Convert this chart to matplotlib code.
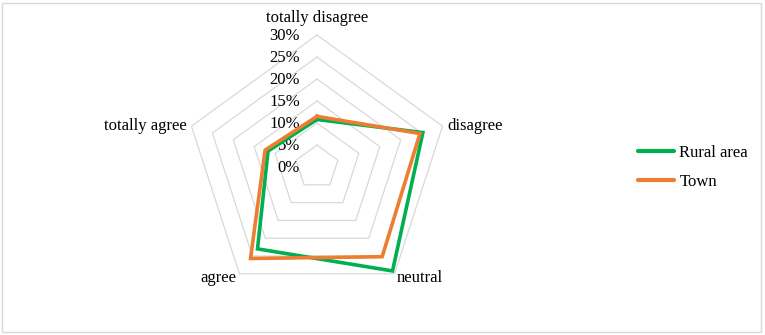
import matplotlib.pyplot as plt
import numpy as np

categories = ['totally disagree', 'disagree', 'neutral', 'agree', 'totally agree']
rural = [10.8, 25.3, 29.2, 23.0, 11.7]
town = [11.5, 24.6, 25.2, 25.7, 12.4]
ticks = [0, 5, 10, 15, 20, 25, 30]
tick_labels = ['0%', '5%', '10%', '15%', '20%', '25%', '30%']

plt.rcParams['font.family'] = ['Liberation Serif', 'DejaVu Serif']

green = '#00b050'
orange = '#ed7d31'
fs = 12

# angles: start at top, go clockwise
ang = np.pi / 2 - np.arange(5) * 2 * np.pi / 5


def xy(vals):
    v = np.asarray(vals, dtype=float)
    x = v * np.cos(ang)
    y = v * np.sin(ang)
    return np.append(x, x[0]), np.append(y, y[0])


fig = plt.figure(figsize=(7.65, 3.35), dpi=100)
ax = fig.add_axes([0, 0, 1, 1])
ax.set_xlim(-317 / 4.4, (765 - 317) / 4.4)
ax.set_ylim(-168 / 4.4, (335 - 168) / 4.4)
ax.axis('off')

# frame
fig.patches.append(plt.Rectangle((0.003, 0.008), 0.992, 0.984, transform=fig.transFigure,
                                 fill=False, edgecolor='#d9d9d9', linewidth=1))

# grid rings
for t in ticks[1:]:
    gx, gy = xy([t] * 5)
    ax.plot(gx, gy, color='#d9d9d9', linewidth=0.9, zorder=1)

# tick labels
for t, lab in zip(ticks, tick_labels):
    ax.text(-3.9, t - 0.25, lab, ha='right', va='center', fontsize=fs, zorder=2)

# data
rx, ry = xy(rural)
tx, ty = xy(town)
ax.plot(rx, ry, color=green, linewidth=2.6, solid_joinstyle='miter', zorder=3, label='Rural area')
ax.plot(tx, ty, color=orange, linewidth=2.6, solid_joinstyle='miter', zorder=4, label='Town')

# category labels
r_out = 30
ax.text(0, 33.9, categories[0], ha='center', va='center', fontsize=fs)
ax.text(r_out * np.cos(ang[1]) + 1.1, r_out * np.sin(ang[1]), categories[1], ha='left', va='center', fontsize=fs)
ax.text(r_out * np.cos(ang[2]) + 0.4, r_out * np.sin(ang[2]) - 1.0, categories[2], ha='left', va='center', fontsize=fs)
ax.text(r_out * np.cos(ang[3]) - 0.7, r_out * np.sin(ang[3]) - 1.0, categories[3], ha='right', va='center', fontsize=fs)
ax.text(r_out * np.cos(ang[4]) - 1.1, r_out * np.sin(ang[4]), categories[4], ha='right', va='center', fontsize=fs)

leg = ax.legend(loc='center left', bbox_to_anchor=(0.814, 0.5), frameon=False, fontsize=fs,
                handlelength=2.2, handletextpad=0.3, labelspacing=0.75)
for line in leg.get_lines():
    line.set_linewidth(3)
    line.set_solid_capstyle('round')

fig.savefig('out.png', dpi=100)
